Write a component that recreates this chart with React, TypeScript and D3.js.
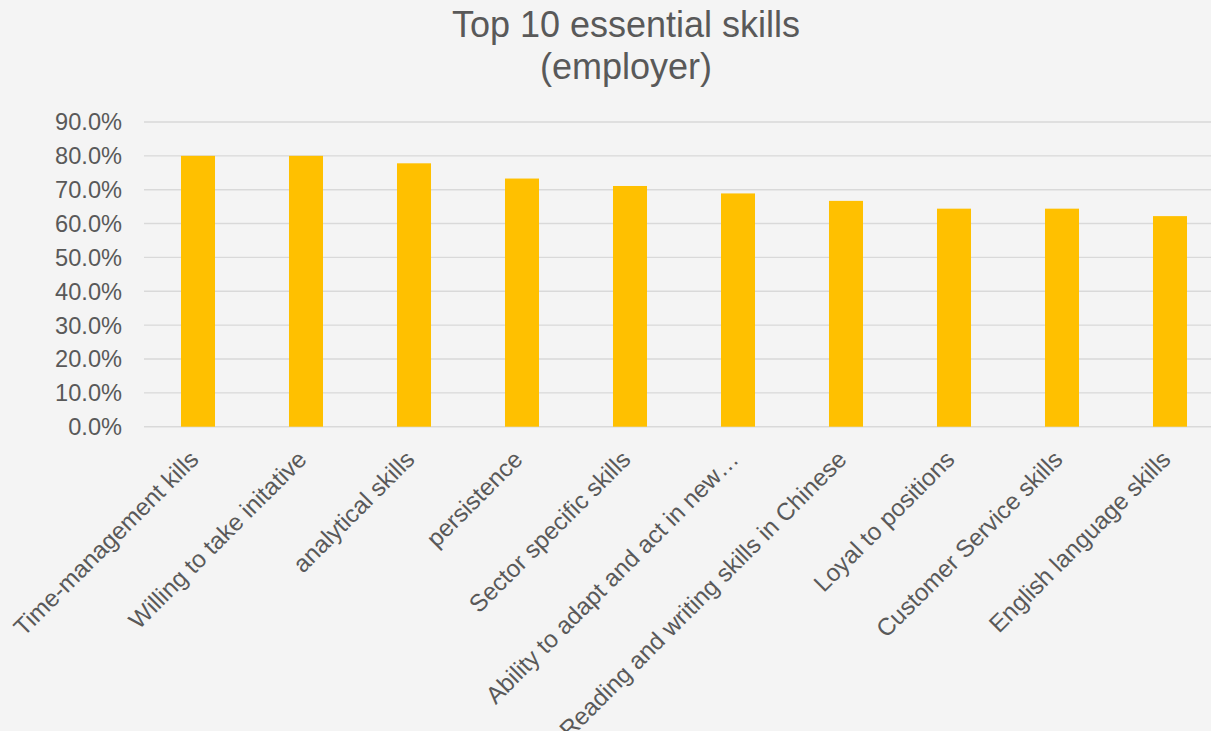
import React from "react";
import * as d3 from "d3";

const categories: string[] = [
  "Time-management kills",
  "Willing to take initative",
  "analytical skills",
  "persistence",
  "Sector specific skills",
  "Ability to adapt and act in new…",
  "Reading and writing skills in Chinese",
  "Loyal to positions",
  "Customer Service skills",
  "English language skills",
];
const values: number[] = [0.8, 0.8, 0.778, 0.733, 0.711, 0.689, 0.667, 0.644, 0.644, 0.622];
const yTicks: number[] = [0, 0.1, 0.2, 0.3, 0.4, 0.5, 0.6, 0.7, 0.8, 0.9];
const titleLines: string[] = ["Top 10 essential skills", "(employer)"];

const W = 1211;
const H = 731;
const FONT = "'Liberation Sans', Arial, sans-serif";
const TEXT = "#595959";

export default function App() {
  const x = d3
    .scaleBand<string>()
    .domain(categories)
    .range([144, 1224])
    .paddingInner(0.685)
    .paddingOuter(0.3425);
  const y = d3.scaleLinear().domain([0, 0.9]).range([426.7, 122]);
  const fmt = d3.format(".1%");

  return (
    <div style={{ position: "fixed", left: 0, top: 0, width: W, height: H }}>
      <svg width={W} height={H} style={{ display: "block" }}>
        <rect x={0} y={0} width={W} height={H} fill="#f4f4f4" />
        {titleLines.map((t, i) => (
          <text
            key={t}
            x={626}
            y={37 + i * 42}
            textAnchor="middle"
            fontFamily={FONT}
            fontSize={36}
            fill={TEXT}
          >
            {t}
          </text>
        ))}
        {yTicks.map((v) => (
          <g key={v}>
            <line
              x1={144}
              x2={W}
              y1={y(v)}
              y2={y(v)}
              stroke="#d9d9d9"
              strokeWidth={1.4}
            />
            <text
              x={122}
              y={y(v)}
              dy="0.36em"
              textAnchor="end"
              fontFamily={FONT}
              fontSize={23.6}
              fill={TEXT}
            >
              {fmt(v)}
            </text>
          </g>
        ))}
        {categories.map((c, i) => (
          <rect
            key={c}
            x={x(c)}
            y={y(values[i])}
            width={x.bandwidth()}
            height={y(0) - y(values[i])}
            fill="#ffc000"
          />
        ))}
        {categories.map((c) => {
          const cx = (x(c) as number) + x.bandwidth() / 2;
          return (
            <text
              key={c}
              transform={`translate(${cx + 2},461) rotate(-45)`}
              textAnchor="end"
              fontFamily={FONT}
              fontSize={24.2}
              fill={TEXT}
            >
              {c}
            </text>
          );
        })}
      </svg>
    </div>
  );
}
